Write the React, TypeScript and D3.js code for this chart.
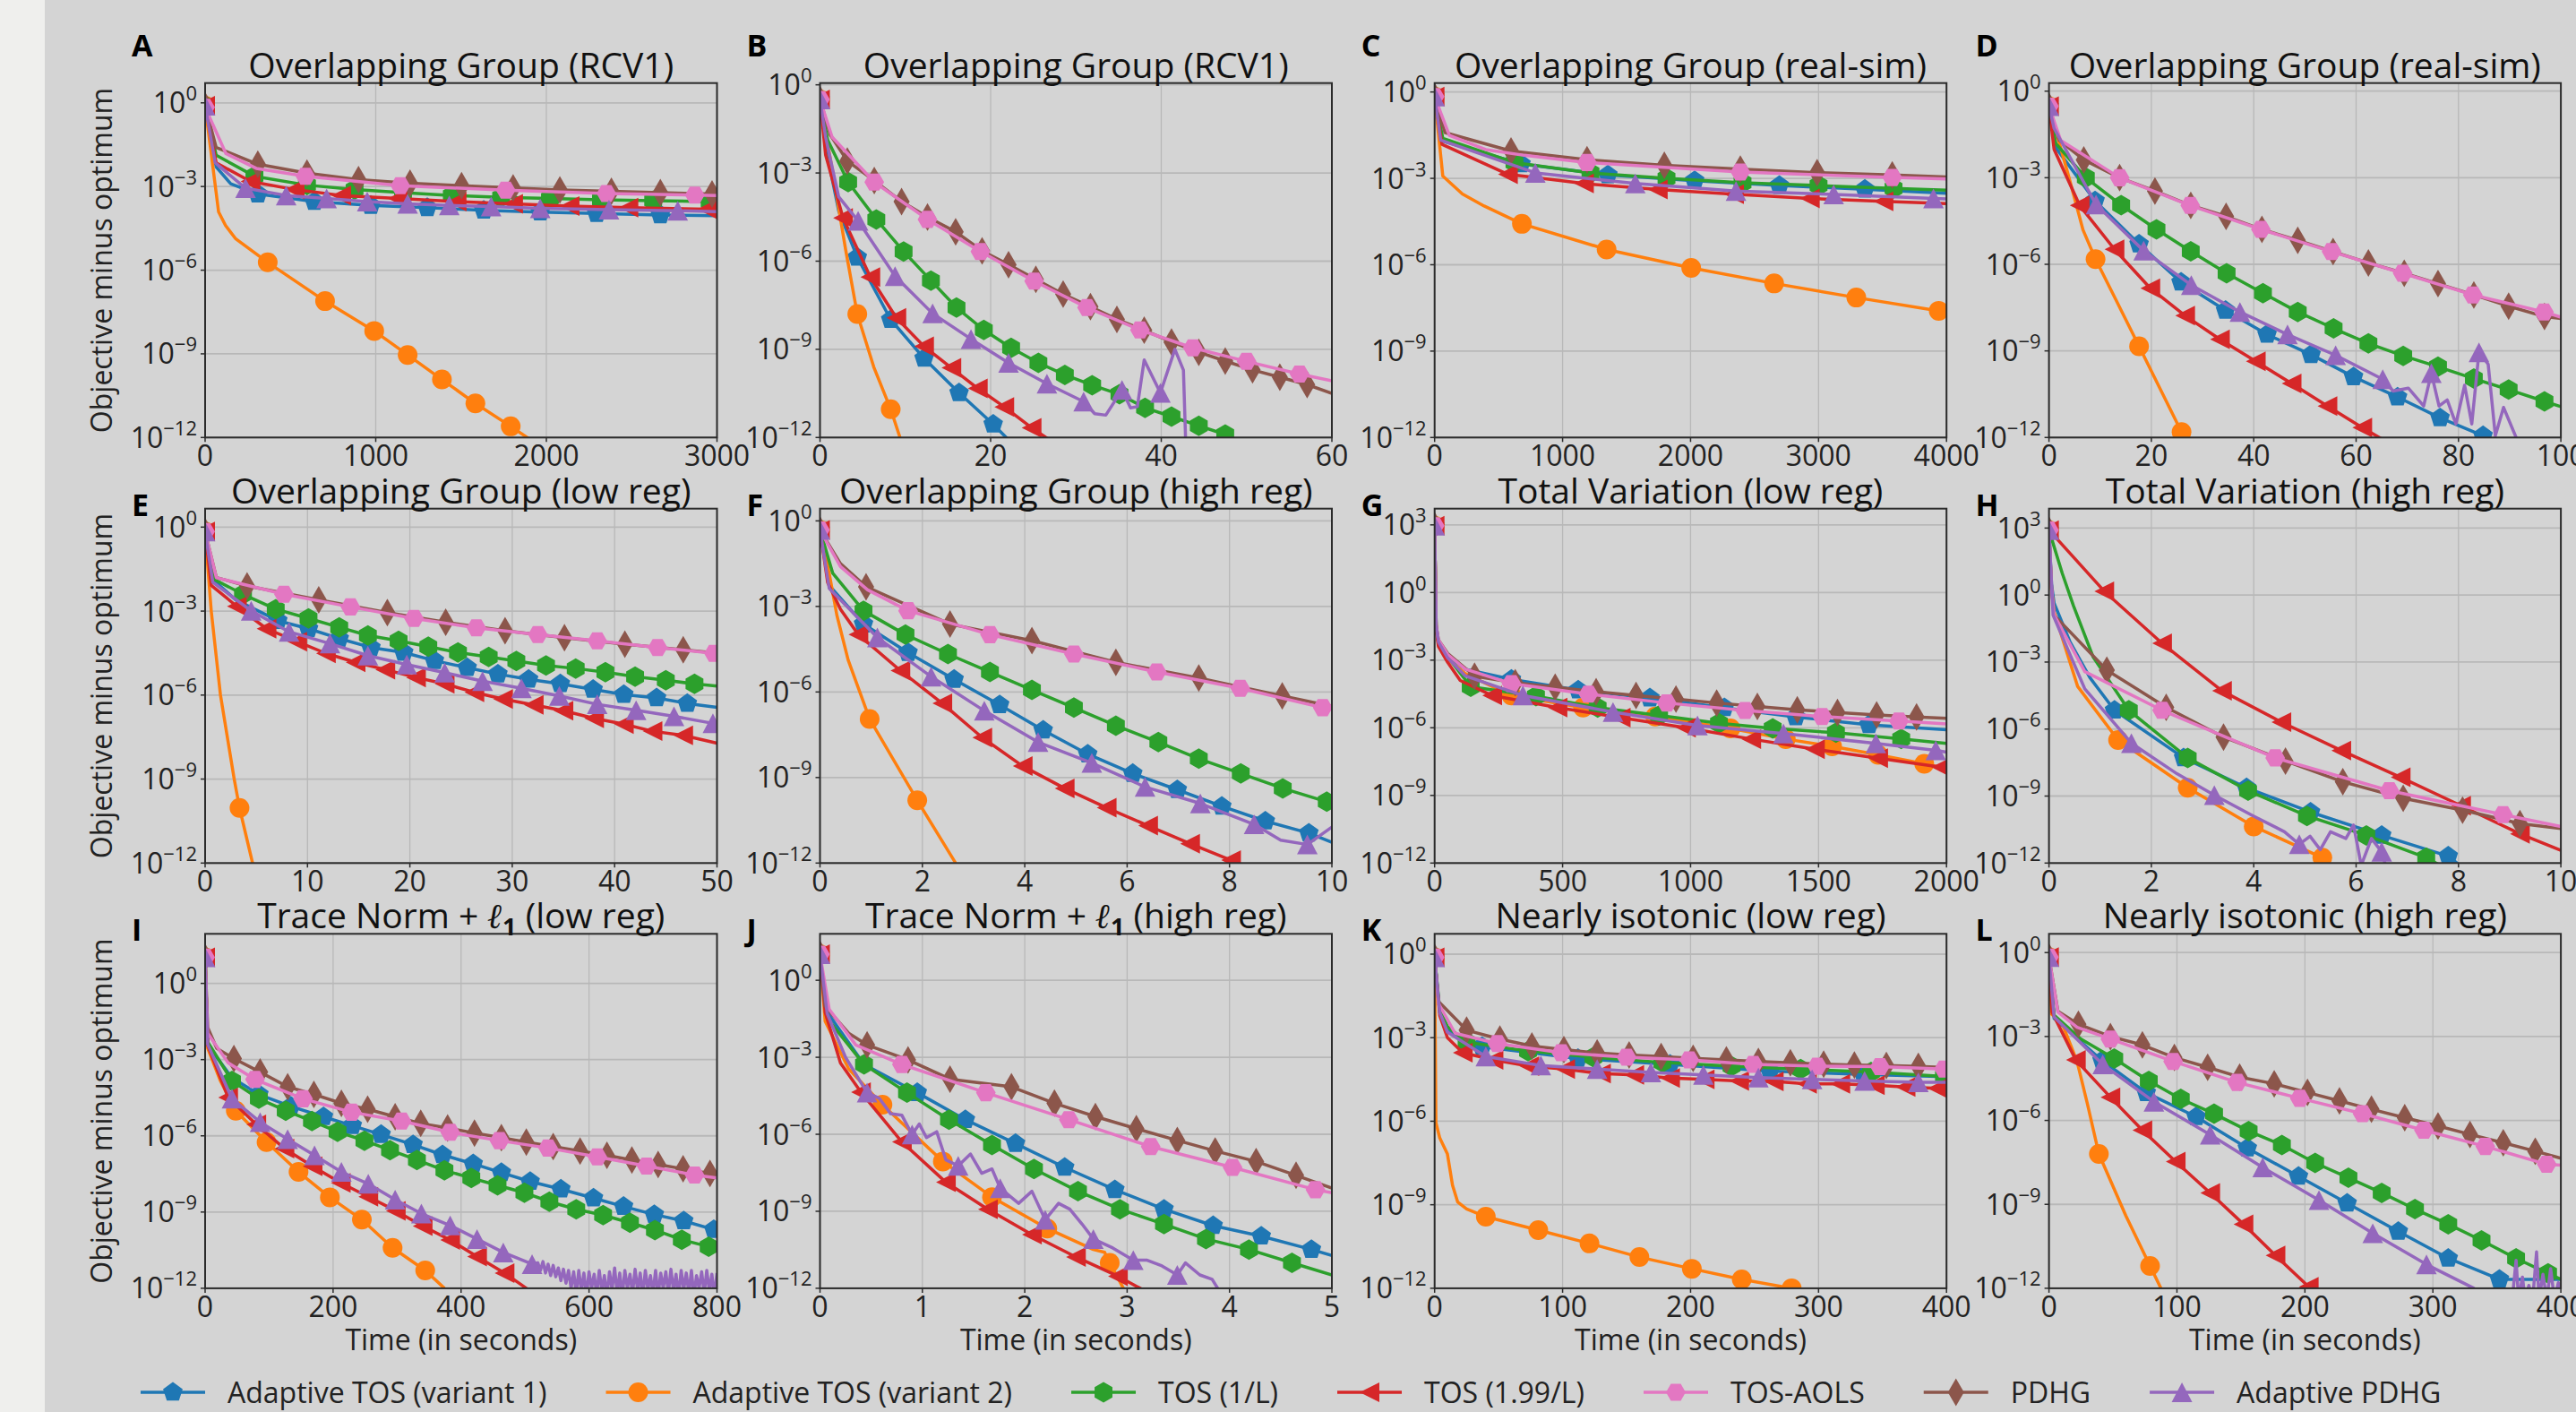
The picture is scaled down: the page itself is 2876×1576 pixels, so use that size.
import React, { useEffect, useMemo } from "react";
import * as d3 from "d3";

// series in legend order
const seriesNames = [
  "Adaptive TOS (variant 1)",
  "Adaptive TOS (variant 2)",
  "TOS (1/L)",
  "TOS (1.99/L)",
  "TOS-AOLS",
  "PDHG",
  "Adaptive PDHG",
];
const seriesColors = ["#1f77b4", "#ff7f0e", "#2ca02c", "#d62728", "#e377c2", "#8c564b", "#9467bd"];
const seriesMarkers = ["pentagon", "circle", "hexagon", "triangleLeft", "hexagon2", "thinDiamond", "triangleUp"];
const drawOrder = [0, 1, 2, 3, 5, 4, 6];

const panelLetters = ["A", "B", "C", "D", "E", "F", "G", "H", "I", "J", "K", "L"];
const panelTitles = [
  "Overlapping Group (RCV1)",
  "Overlapping Group (RCV1)",
  "Overlapping Group (real-sim)",
  "Overlapping Group (real-sim)",
  "Overlapping Group (low reg)",
  "Overlapping Group (high reg)",
  "Total Variation (low reg)",
  "Total Variation (high reg)",
  "Trace Norm + ℓ1 (low reg)",
  "Trace Norm + ℓ1 (high reg)",
  "Nearly isotonic (low reg)",
  "Nearly isotonic (high reg)",
];
const panelXMax = [3000, 60, 4000, 100, 50, 10, 2000, 10, 800, 5, 400, 400];
const panelXTicks = [
  [0, 1000, 2000, 3000],
  [0, 20, 40, 60],
  [0, 1000, 2000, 3000, 4000],
  [0, 20, 40, 60, 80, 100],
  [0, 10, 20, 30, 40, 50],
  [0, 2, 4, 6, 8, 10],
  [0, 500, 1000, 1500, 2000],
  [0, 2, 4, 6, 8, 10],
  [0, 200, 400, 600, 800],
  [0, 1, 2, 3, 4, 5],
  [0, 100, 200, 300, 400],
  [0, 100, 200, 300, 400],
];
// log10 of the top of each y axis (bottom is 1e-12)
const panelYTop = [0.71, 0.06, 0.31, 0.28, 0.66, 0.43, 3.72, 3.87, 1.95, 1.81, 0.73, 0.67];
const yTickExps = [0, -3, -6, -9, -12];
const yTickExpsTV = [3, 0, -3, -6, -9, -12];

// each series: [time, log10(objective - optimum), 0 = no marker]
// order inside a panel: blue, orange, green, red, pink, brown, purple
const panelA = [
  [[0,-0.1],[65,-2.3,0],[150,-2.9,0],[309,-3.27],[640,-3.54],[971,-3.68],[1302,-3.76],[1633,-3.85],[1964,-3.92],[2295,-3.97],[2668,-4.02],[3000,-4.05,0]],
  [[0,-0.1],[79,-3.91,0],[120,-4.4,0],[180,-4.88,0],[367,-5.72],[703,-7.11],[991,-8.18],[1187,-9.04],[1388,-9.92],[1584,-10.78],[1791,-11.6],[1960,-12.3,0]],
  [[0,-0.1],[65,-1.88,0],[289,-2.63],[597,-2.95],[876,-3.11],[1160,-3.22],[1446,-3.32],[1735,-3.39],[2021,-3.43],[2320,-3.48],[2626,-3.51],[2957,-3.54],[3000,-3.55,0]],
  [[0,-0.1],[65,-2.15,0],[266,-2.82],[525,-3.11],[798,-3.32],[1129,-3.43],[1474,-3.54],[1805,-3.62],[2136,-3.7],[2481,-3.76],[2942,-3.81],[3000,-3.81,0]],
  [[0,-0.16],[122,-1.82,0],[300,-2.35,0],[588,-2.63],[1144,-2.97],[1762,-3.13],[2352,-3.25],[2870,-3.31],[3000,-3.32,0]],
  [[0,-0.1],[65,-1.6,0],[309,-2.2],[597,-2.52],[899,-2.75],[1201,-2.88],[1503,-2.97],[1805,-3.05],[2079,-3.12],[2381,-3.17],[2668,-3.22],[2971,-3.27]],
  [[0,-0.1],[59,-2.15,0],[237,-3.06],[475,-3.32],[712,-3.43],[950,-3.54],[1187,-3.62],[1431,-3.68],[1676,-3.72],[1964,-3.78],[2367,-3.83],[2770,-3.87],[3000,-3.9,0]],
];
const panelB = [
  [[0,-0.5],[1,-2.6,0],[2.2,-4.3,0],[4.37,-5.87],[8.29,-7.99],[12.2,-9.31],[16.3,-10.48],[20.3,-11.55],[22.5,-12.2,0]],
  [[0,-0.5],[1.5,-3,0],[3,-5.6,0],[4.37,-7.8],[6.3,-9.6,0],[8.29,-11.04],[9.6,-12.2,0]],
  [[0,-0.5],[0.9,-1.88,0],[3.3,-3.31],[6.6,-4.58],[9.8,-5.67],[13,-6.66],[16,-7.58],[19.2,-8.34],[22.4,-8.95],[25.6,-9.46],[28.7,-9.87],[31.9,-10.22],[35.1,-10.53],[38.1,-10.99],[41.2,-11.29],[44.4,-11.6],[47.5,-11.9],[49,-12.1,0]],
  [[0,-0.5],[0.66,-2.39,0],[2.7,-4.53],[5.9,-6.54],[8.95,-7.93],[12.2,-8.9],[15.4,-9.63],[18.5,-10.33],[21.6,-10.96],[24.8,-11.67],[27,-12.1,0]],
  [[0,-0.5],[1.42,-1.78,0],[6.36,-3.31],[12.6,-4.58],[18.8,-5.67],[25.1,-6.68],[31.3,-7.58],[37.5,-8.34],[43.7,-8.95],[50,-9.41],[56.2,-9.84],[60,-10.07,0]],
  [[0,-0.5],[1.2,-1.7,0],[3.2,-2.59],[6.36,-3.26],[9.56,-3.97],[12.6,-4.5],[15.9,-5.0],[19,-5.65],[22.1,-6.12],[25.3,-6.62],[28.5,-7.12],[31.7,-7.55],[34.8,-7.98],[38,-8.35],[41.2,-8.75],[44.4,-9.1],[47.5,-9.4],[50.7,-9.7],[53.9,-9.95],[57.1,-10.2],[60,-10.5,0]],
  [[0,-0.5],[0.66,-1.78,0],[2.19,-3.81,0],[4.47,-4.63],[8.8,-6.51],[13.2,-7.78],[17.7,-8.65],[22.1,-9.46],[26.6,-10.17],[30.9,-10.78],[32.2,-11.19,0],[33.5,-11.24,0],[35.4,-10.38],[36.4,-10.99,0],[37.2,-10.95,0],[38,-9.36,0],[39.9,-10.48],[41.6,-9.0,0],[42.6,-9.71,0],[42.9,-12.5,0]],
];
const panelC = [
  [[0,-0.16],[60,-1.7,0],[675,-2.5],[1354,-2.88],[2032,-3.08],[2694,-3.25],[3362,-3.38],[4000,-3.52,0]],
  [[0,-0.16],[64,-2.92,0],[217,-3.54,0],[387,-3.96,0],[682,-4.58],[1344,-5.47],[2005,-6.11],[2653,-6.65],[3295,-7.14],[3939,-7.6],[4000,-7.62,0]],
  [[0,-0.16],[64,-1.61,0],[624,-2.45],[1218,-2.81],[1812,-3.0],[2406,-3.15],[3000,-3.25],[3586,-3.35],[4000,-3.41,0]],
  [[0,-0.16],[58,-1.82,0],[573,-2.86],[1167,-3.18],[1744,-3.39],[2340,-3.55],[2932,-3.7],[3508,-3.8],[4000,-3.88,0]],
  [[0,-0.16],[115,-1.51,0],[400,-2.0,0],[700,-2.2,0],[1191,-2.45],[2389,-2.78],[3576,-2.97],[4000,-3.02,0]],
  [[0,-0.16],[81,-1.41,0],[597,-2.05],[1191,-2.35],[1795,-2.55],[2389,-2.68],[2989,-2.8],[3576,-2.88],[4000,-2.95,0]],
  [[0,-0.16],[47,-1.67,0],[787,-2.81],[1568,-3.18],[2355,-3.44],[3118,-3.56],[3898,-3.7],[4000,-3.71,0]],
];
const panelD = [
  [[0,-0.52],[1.5,-2.0,0],[9,-3.8],[17.6,-5.3],[25.8,-6.62],[34.5,-7.6],[42.6,-8.43],[51.2,-9.13],[59.5,-9.9],[68.1,-10.6],[76.4,-11.32],[84.8,-11.94],[86.5,-12.1,0]],
  [[0,-0.52],[4,-3.05,0],[6.65,-4.81,0],[9.1,-5.82],[13,-7.2,0],[17.6,-8.84],[25.9,-11.81],[26.6,-12.05,0]],
  [[0,-0.52],[1.3,-1.81,0],[7.2,-3.0],[14.1,-3.95],[21,-4.79],[27.7,-5.55],[34.7,-6.31],[41.8,-7.0],[48.6,-7.65],[55.6,-8.22],[62.4,-8.74],[69.2,-9.17],[76,-9.55],[83,-9.96],[89.8,-10.34],[96.8,-10.75],[100,-10.93,0]],
  [[0,-0.52],[1,-2.02,0],[6,-3.96],[12.8,-5.48],[19.8,-6.83],[26.6,-7.78],[33.4,-8.6],[40.4,-9.36],[47.4,-10.13],[54.4,-10.91],[61.2,-11.66],[65.5,-12.1,0]],
  [[0,-0.52],[2.3,-1.71,0],[13.8,-3.0],[27.6,-3.96],[41.4,-4.79],[55.2,-5.56],[69.1,-6.31],[82.8,-7.06],[96.7,-7.65],[100,-7.83,0]],
  [[0,-0.52],[2,-1.7,0],[6.8,-2.38],[13.8,-3.0],[20.7,-3.46],[27.7,-3.96],[34.6,-4.34],[41.6,-4.79],[48.6,-5.17],[55.5,-5.56],[62.4,-5.95],[69.4,-6.31],[76,-6.67],[83,-7.06],[89.8,-7.45],[96.8,-7.81],[100,-7.88,0]],
  [[0,-0.52],[1,-1.29,0],[9.2,-3.93],[18.5,-5.53],[27.8,-6.72],[37.3,-7.65],[46.6,-8.43],[56,-9.15],[65.2,-9.98],[67.2,-10.39,0],[70.2,-10.29,0],[73.2,-10.91,0],[74.7,-9.77],[76.2,-10.91,0],[77.8,-10.7,0],[79.5,-11.53,0],[81.2,-10.19,0],[82.6,-11.53,0],[84,-9.05],[85.8,-9.46,0],[87.2,-11.94,0],[88.8,-10.96,0],[91.5,-12.1,0]],
];
const panelE = [
  [[0,-0.16],[0.75,-1.87,0],[3,-2.6,0],[7.1,-3.34],[10.1,-3.63],[13.1,-3.98],[16.2,-4.3],[19.4,-4.48],[22.4,-4.77],[25.6,-5.02],[28.6,-5.25],[31.6,-5.44],[34.7,-5.6],[37.9,-5.8],[40.9,-5.98],[44.1,-6.1],[47.1,-6.3],[50,-6.44,0]],
  [[0,-0.16],[0.6,-3,0],[1.5,-6,0],[2.84,-9,0],[3.36,-10.03],[4.7,-12.1,0]],
  [[0,-0.16],[0.9,-1.87,0],[3.7,-2.4],[6.9,-2.93],[10.1,-3.26],[13.1,-3.58],[15.9,-3.87],[18.9,-4.06],[21.8,-4.27],[24.7,-4.48],[27.7,-4.64],[30.4,-4.78],[33.3,-4.94],[36.2,-5.05],[39.1,-5.18],[42,-5.34],[45,-5.47],[47.8,-5.6],[50,-5.68,0]],
  [[0,-0.16],[0.6,-2.08,0],[3.1,-2.83],[6,-3.63],[9,-4.09],[11.8,-4.51],[14.7,-4.83],[17.6,-5.09],[20.6,-5.37],[23.4,-5.6],[26.3,-5.9],[29.1,-6.14],[32.1,-6.35],[35,-6.56],[38,-6.83],[40.9,-7.04],[43.7,-7.29],[46.7,-7.44],[50,-7.72,0]],
  [[0,-0.16],[1.1,-1.81,0],[7.7,-2.4],[14.2,-2.85],[20.4,-3.26],[26.5,-3.6],[32.5,-3.84],[38.3,-4.06],[44.2,-4.3],[49.7,-4.51],[50,-4.52,0]],
  [[0,-0.16],[1.1,-1.8,0],[4.1,-2.1],[11.1,-2.6],[17.8,-3.05],[23.5,-3.4],[29.3,-3.7],[35.1,-3.95],[41,-4.18],[46.7,-4.38],[50,-4.5,0]],
  [[0,-0.16],[0.75,-1.97,0],[4.5,-2.99],[8.2,-3.74],[12.2,-4.16],[15.9,-4.59],[19.7,-4.91],[23.4,-5.2],[27.1,-5.5],[30.9,-5.76],[34.6,-6.03],[38.3,-6.33],[42.1,-6.54],[45.8,-6.76],[49.6,-7.01],[50,-7.03,0]],
];
const panelF = [
  [[0,-0.32],[0.18,-2.26,0],[0.85,-3.62],[1.72,-4.62],[2.62,-5.56],[3.51,-6.45],[4.36,-7.34],[5.23,-8.18],[6.11,-8.86],[6.98,-9.43],[7.85,-10.01],[8.7,-10.53],[9.55,-10.95],[10,-11.27,0]],
  [[0,-0.32],[0.18,-1.84,0],[0.33,-3.31,0],[0.55,-4.88,0],[0.97,-6.95],[1.9,-9.8],[2.65,-12.0,0]],
  [[0,-0.32],[0.25,-1.84,0],[0.85,-3.15],[1.67,-3.99],[2.5,-4.67],[3.32,-5.3],[4.14,-5.93],[4.96,-6.55],[5.78,-7.18],[6.61,-7.76],[7.4,-8.34],[8.22,-8.86],[9.04,-9.38],[9.9,-9.85],[10,-9.9,0]],
  [[0,-0.32],[0.15,-2.16,0],[0.4,-3.1,0],[0.75,-3.99],[1.57,-5.25],[2.39,-6.4],[3.17,-7.6],[3.96,-8.6],[4.78,-9.38],[5.6,-10.06],[6.41,-10.69],[7.23,-11.32],[8.03,-11.9],[8.3,-12.1,0]],
  [[0,-0.32],[0.4,-1.6,0],[0.93,-2.42,0],[1.72,-3.15],[3.32,-3.99],[4.96,-4.67],[6.58,-5.3],[8.21,-5.87],[9.82,-6.55],[10,-6.61,0]],
  [[0,-0.32],[0.4,-1.5,0],[0.9,-2.31],[2.54,-3.62],[4.14,-4.2],[5.78,-4.96],[7.4,-5.51],[9.03,-6.14],[10,-6.5,0]],
  [[0,-0.32],[0.18,-2.37,0],[1.12,-4.09],[2.17,-5.46],[3.21,-6.66],[4.26,-7.76],[5.31,-8.49],[6.35,-9.33],[7.43,-9.91],[8.48,-10.64],[9.0,-11.2,0],[9.52,-11.35],[10,-10.74,0]],
];
const panelG = [
  [[0,2.96],[6,-1.53,0],[15,-2.19,0],[51,-2.8,0],[120,-3.4,0],[300,-3.85],[561,-4.33],[841,-4.68],[1132,-5.11],[1411,-5.52],[1697,-5.87],[2000,-6.09,0]],
  [[0,2.96],[6,-1.6,0],[15,-2.3,0],[51,-2.95,0],[120,-3.6,0],[300,-4.57],[580,-5.1],[862,-5.5],[1156,-6.03],[1372,-6.5],[1553,-6.82],[1733,-7.2],[1913,-7.6],[2000,-7.81,0]],
  [[0,2.96],[6,-1.55,0],[15,-2.2,0],[51,-2.85,0],[141,-4.18],[396,-4.6],[637,-5.1],[877,-5.45],[1111,-5.8],[1321,-6.03],[1568,-6.22],[1823,-6.49],[2000,-6.69,0]],
  [[0,2.96],[6,-1.7,0],[15,-2.4,0],[51,-3.1,0],[100,-3.9,0],[225,-4.57],[480,-5.1],[727,-5.55],[982,-6.0],[1237,-6.5],[1486,-6.95],[1733,-7.35],[1979,-7.75],[2000,-7.85,0]],
  [[0,2.96],[6,-1.45,0],[15,-2.1,0],[51,-2.75,0],[120,-3.4,0],[300,-4.04],[601,-4.51],[907,-4.9],[1213,-5.23],[1514,-5.5],[1814,-5.7],[2000,-5.83,0]],
  [[0,2.96],[6,-1.45,0],[15,-2.1,0],[51,-2.7,0],[156,-3.71],[315,-4.0],[471,-4.2],[631,-4.4],[787,-4.57],[943,-4.73],[1102,-4.9],[1261,-5.05],[1417,-5.2],[1574,-5.32],[1727,-5.43],[1883,-5.52],[2000,-5.58,0]],
  [[0,2.96],[6,-1.5,0],[15,-2.2,0],[51,-2.9,0],[120,-3.7,0],[345,-4.57],[697,-5.3],[1027,-5.9],[1363,-6.26],[1724,-6.69],[1958,-7.0],[2000,-7.08,0]],
];
const panelH = [
  [[0,2.91],[0.05,0.5,0],[0.1,-0.36,0],[0.41,-2.09,0],[0.8,-3.7,0],[1.28,-5.16],[2.63,-7.29],[3.86,-8.63],[5.11,-9.72],[6.5,-10.76],[7.8,-11.69],[8.0,-12.05,0]],
  [[0,2.91],[0.05,0.3,0],[0.1,-0.76,0],[0.56,-4.09,0],[1.35,-6.49],[2.71,-8.63],[4.0,-10.36],[5.34,-11.76],[5.5,-12.05,0]],
  [[0,2.91],[0.26,0.97,0],[0.48,-0.49,0],[0.86,-2.76,0],[1.56,-5.16],[2.71,-7.29],[3.89,-8.76],[5.04,-9.89],[6.2,-10.76],[7.37,-11.76],[7.6,-12.05,0]],
  [[0,2.91],[1.08,0.17],[2.21,-2.16],[3.38,-4.29],[4.54,-5.69],[5.71,-6.96],[6.87,-8.16],[8.05,-9.43],[9.2,-10.69],[10,-11.43,0]],
  [[0,2.91],[0.05,0.3,0],[0.1,-0.89,0],[0.7,-3.43,0],[2.21,-5.16],[4.42,-7.29],[6.65,-8.76],[8.87,-9.83],[10,-10.36,0]],
  [[0,2.91],[0.05,0.3,0],[0.1,-0.9,0],[1.13,-3.36],[2.29,-5.03],[3.41,-6.36],[4.62,-7.43],[5.74,-8.36],[6.92,-9.1],[8.08,-9.63],[9.2,-10.23],[10,-10.45,0]],
  [[0,2.91],[0.08,-0.9,0],[0.7,-4.2,0],[1.61,-6.63],[2.5,-8.0,0],[3.23,-8.96],[4.0,-9.9,0],[4.6,-10.6,0],[4.89,-11.16],[5.1,-10.8,0],[5.3,-11.4,0],[5.5,-10.6,0],[5.8,-10.9,0],[5.95,-10.3,0],[6.1,-12.1,0],[6.3,-10.9,0],[6.5,-11.5],[6.6,-12.3,0]],
];
const panelI = [
  [[0,1.03],[4,-2.43,0],[42,-3.72,0],[84,-4.37],[134,-4.84],[185,-5.25],[230,-5.6],[275,-5.95],[325,-6.35],[371,-6.75],[419,-7.1],[463,-7.45],[508,-7.8],[556,-8.1],[607,-8.45],[654,-8.78],[702,-9.1],[748,-9.35],[795,-9.69],[800,-9.71,0]],
  [[0,1.03],[4,-2.55,0],[24,-3.84,0],[48,-5.01],[96,-6.25],[146,-7.42],[195,-8.42],[245,-9.3],[293,-10.41],[344,-11.3],[374,-12.0,0]],
  [[0,1.03],[4,-2.3,0],[42,-3.84],[84,-4.54],[126,-5.01],[167,-5.42],[207,-5.84],[249,-6.19],[289,-6.56],[331,-6.95],[374,-7.36],[416,-7.66],[457,-7.95],[499,-8.24],[538,-8.59],[580,-8.89],[622,-9.12],[664,-9.42],[703,-9.71],[745,-10.09],[787,-10.36],[800,-10.41,0]],
  [[0,1.03],[4,-2.43,0],[36,-4.49],[80,-5.55],[124,-6.5],[168,-7.2],[212,-7.85],[255,-8.4],[298,-8.95],[340,-9.55],[383,-10.1],[425,-10.75],[468,-11.4],[505,-12.05,0]],
  [[0,1.03],[4,-1.96,0],[36,-3.13,0],[78,-3.78],[153,-4.54],[229,-5.07],[307,-5.42],[383,-5.86],[460,-6.19],[536,-6.48],[613,-6.83],[690,-7.19],[765,-7.54],[800,-7.66,0]],
  [[0,1.03],[4,-1.73,0],[18,-2.55,0],[45,-2.96],[86,-3.49],[129,-4.07],[170,-4.37],[213,-4.72],[254,-4.95],[297,-5.25],[337,-5.51],[379,-5.69],[421,-5.89],[463,-6.07],[502,-6.25],[544,-6.42],[586,-6.6],[628,-6.77],[667,-6.95],[708,-7.13],[747,-7.3],[789,-7.48],[800,-7.5,0]],
  [[0,1.03],[4,-2.4,0],[42,-4.54],[86,-5.46],[129,-6.13],[171,-6.77],[213,-7.42],[255,-7.89],[297,-8.51],[338,-9.06],[383,-9.53],[425,-10.06],[466,-10.59],[511,-11.05],
   [520,-11.0,0],[524,-11.3,0],[528,-10.95,0],[532,-11.4,0],[536,-11.05,0],[540,-11.5,0],[544,-11.1,0],[548,-11.55,0],[552,-11.2,0],[556,-11.7,0],[560,-11.25,0],[564,-11.8,0],[568,-11.3,0],[572,-12.0,0],[576,-11.35,0],[580,-12.2,0],[584,-11.3,0],[588,-12.1,0],[592,-11.4,0],[596,-12.3,0],[600,-11.35,0],[604,-12.0,0],[608,-11.45,0],[612,-12.25,0],[616,-11.3,0],[620,-12.1,0],[624,-11.5,0],[628,-12.3,0],[632,-11.35,0],[636,-12.05,0],[640,-11.2,0],[644,-12.2,0],[648,-11.4,0],[652,-12.3,0],[656,-11.3,0],[660,-12.0,0],[664,-11.45,0],[668,-12.2,0],[672,-11.25,0],[676,-12.1,0],[680,-11.4,0],[684,-12.3,0],[688,-11.3,0],[692,-12.05,0],[696,-11.5,0],[700,-12.2,0],[704,-11.3,0],[708,-12.3,0],[712,-11.4,0],[716,-12.0,0],[720,-11.35,0],[724,-12.2,0],[728,-11.25,0],[732,-12.1,0],[736,-11.45,0],[740,-12.3,0],[744,-11.3,0],[748,-12.05,0],[752,-11.4,0],[756,-12.2,0],[760,-11.3,0],[764,-12.3,0],[768,-11.5,0],[772,-12.0,0],[776,-11.35,0],[780,-12.2,0],[784,-11.3,0],[788,-12.1,0],[792,-11.45,0],[796,-12.3,0],[800,-11.4,0]],
];
const panelJ = [
  [[0,1.02],[0.07,-1.24,0],[0.43,-3.28,0],[0.95,-4.38],[1.42,-5.43],[1.91,-6.36],[2.39,-7.29],[2.88,-8.16],[3.36,-8.92],[3.84,-9.56],[4.31,-9.97],[4.8,-10.49],[5,-10.72,0]],
  [[0,1.02],[0.05,-1.59,0],[0.28,-3.45,0],[0.61,-4.85],[1.2,-7.06],[1.68,-8.45],[2.22,-9.67],[2.67,-10.49,0],[2.78,-10.6,0],[2.83,-11.01],[2.97,-12.05,0]],
  [[0,1.02],[0.07,-1.48,0],[0.43,-3.28],[0.85,-4.38],[1.26,-5.43],[1.68,-6.42],[2.09,-7.35],[2.52,-8.22],[2.93,-8.92],[3.36,-9.5],[3.77,-10.08],[4.19,-10.49],[4.61,-11.01],[5,-11.48,0]],
  [[0,1.02],[0.05,-1.24,0],[0.2,-3.22,0],[0.4,-4.36],[0.8,-6.3],[1.23,-7.87],[1.64,-8.92],[2.07,-9.91],[2.5,-10.78],[2.91,-11.53],[3.15,-12.05,0]],
  [[0,1.02],[0.09,-1.13,0],[0.35,-2.52,0],[0.8,-3.28],[1.62,-4.38],[2.43,-5.43],[3.23,-6.48],[4.03,-7.29],[4.84,-8.16],[5,-8.28,0]],
  [[0,1.02],[0.05,-1.01,0],[0.28,-2.06,0],[0.46,-2.52],[0.86,-3.1],[1.27,-3.85],[1.87,-4.15],[2.29,-4.79],[2.69,-5.31],[3.09,-5.78],[3.49,-6.24],[3.86,-6.65],[4.26,-7.06],[4.65,-7.6],[5,-8.1,0]],
  [[0,1.02],[0.07,-1.3,0],[0.25,-3.0,0],[0.46,-4.38],[0.58,-4.6,0],[0.69,-5.2,0],[0.8,-5.26,0],[0.9,-6.01],[0.97,-5.6,0],[1.04,-6.13,0],[1.14,-5.9,0],[1.23,-7.0,0],[1.35,-7.23],[1.47,-6.77,0],[1.58,-7.52,0],[1.68,-7.35,0],[1.76,-8.1],[1.94,-8.69,0],[2.07,-8.22,0],[2.2,-9.33],[2.33,-8.69,0],[2.44,-8.92,0],[2.56,-9.5,0],[2.67,-10.08],[2.86,-10.43,0],[3.06,-10.9],[3.19,-10.9,0],[3.34,-11.13,0],[3.49,-11.48],[3.57,-11.01,0],[3.71,-11.48,0],[3.83,-11.65,0],[3.9,-12.1,0]],
];
const panelK = [
  [[0,-0.11],[4,-2.09,0],[10,-2.73,0],[37,-3.32],[112,-3.75],[184,-3.96],[262,-4.2],[335,-4.32],[400,-4.4,0]],
  [[0,-0.11],[0.5,-3,0],[1,-6.05,0],[4,-6.6,0],[10,-7.18,0],[14,-8.3,0],[18,-8.9,0],[25,-9.15,0],[40,-9.43],[81,-9.91],[121,-10.39],[160,-10.88],[201,-11.3],[240,-11.68],[279,-12.0],[300,-12.2,0]],
  [[0,-0.11],[4,-2.0,0],[10,-2.6,0],[25,-3.16],[73,-3.48],[124,-3.7],[178,-3.89],[232,-4.02],[286,-4.13],[341,-4.23],[398,-4.39],[400,-4.39,0]],
  [[0,-0.11],[4,-2.2,0],[10,-3.0,0],[22,-3.54],[46,-3.8],[74,-4.02],[102,-4.13],[130,-4.29],[156,-4.34],[184,-4.45],[211,-4.5],[238,-4.55],[265,-4.57],[291,-4.66],[317,-4.66],[344,-4.71],[368,-4.77],[393,-4.82],[400,-4.82,0]],
  [[0,-0.11],[3,-1.77,0],[16,-2.84,0],[49,-3.21],[99,-3.54],[150,-3.7],[199,-3.8],[249,-3.96],[299,-4.02],[348,-4.04],[398,-4.13],[400,-4.13,0]],
  [[0,-0.11],[3,-1.7,0],[25,-2.73],[51,-3.05],[76,-3.3],[101,-3.43],[127,-3.55],[152,-3.62],[177,-3.68],[202,-3.74],[228,-3.8],[253,-3.85],[278,-3.9],[304,-3.95],[328,-3.98],[353,-4.0],[378,-4.03],[400,-4.07,0]],
  [[0,-0.11],[4,-2.1,0],[10,-2.8,0],[40,-3.68],[83,-4.0],[127,-4.13],[169,-4.25],[210,-4.34],[253,-4.43],[295,-4.5],[336,-4.55],[378,-4.6],[400,-4.6,0]],
];
const panelL = [
  [[0,-0.16],[4,-2.35,0],[41.5,-3.86],[76,-5.01],[115,-5.87],[155,-6.99],[195,-8.0],[233,-8.96],[273,-9.97],[312,-10.93],[352,-11.68],[400,-11.68,0]],
  [[0,-0.16],[2,-2.2,0],[10,-2.5,0],[22,-3.9,0],[30,-5.4,0],[39,-7.2],[60,-9.4,0],[79,-11.2],[88,-12.05,0]],
  [[0,-0.16],[4,-2.24,0],[25,-3.09,0],[51,-3.79],[78,-4.59],[103,-5.23],[129,-5.76],[156,-6.38],[182,-6.88],[208,-7.52],[234,-8.05],[260,-8.59],[286,-9.17],[312,-9.71],[338,-10.29],[365,-10.93],[390,-11.47],[400,-11.68,0]],
  [[0,-0.16],[2.4,-2.13,0],[21,-3.84],[48,-5.17],[73,-6.35],[99,-7.47],[126,-8.59],[152,-9.71],[177,-10.83],[203,-11.95],[205,-12.05,0]],
  [[0,-0.16],[7,-2.13,0],[22,-2.67,0],[48,-3.09],[97,-3.89],[147,-4.64],[196,-5.21],[245,-5.76],[293,-6.35],[341,-6.93],[389,-7.57],[400,-7.6,0]],
  [[0,-0.16],[7,-2.1,0],[23,-2.56],[48,-3.0],[73,-3.3],[98,-3.75],[124,-4.1],[149,-4.45],[176,-4.69],[202,-5.0],[227,-5.3],[252,-5.6],[278,-5.9],[304,-6.2],[329,-6.5],[355,-6.8],[380,-7.1],[400,-7.35,0]],
  [[0,-0.16],[4,-2.3,0],[42,-4.0],[82,-5.33],[126,-6.51],[167,-7.68],[211,-8.85],[253,-10.03],[295,-11.15],[332,-12.0,0],[350,-12.6,0],[362,-12.4,0],[365,-11.0,0],[367,-12.4,0],[370,-11.6,0],[372,-12.4,0],[375,-11.9,0],[378,-12.4,0],[381,-10.7,0],[383,-12.4,0],[386,-11.5,0],[389,-12.4,0],[392,-11.3,0],[395,-12.4,0],[398,-11.8,0],[400,-12.3,0]],
];
const panelData = [panelA, panelB, panelC, panelD, panelE, panelF, panelG, panelH, panelI, panelJ, panelK, panelL];

// layout
const W = 2876;
const H = 1576;
const colLeft = [229, 915.5, 1601.7, 2287.6];
const rowTop = [92.7, 567.7, 1042.3];
const axW = 571.5;
const axH = 395.6;
const letterDy = [-30, 8, 8];
const FONT = "'Open Sans', 'DejaVu Sans', sans-serif";
const BG = "#d4d4d4";

function polygon(n, r, rot) {
  const pts = d3.range(n).map((i) => {
    const a = rot + (i * 2 * Math.PI) / n;
    return [r * Math.sin(a), -r * Math.cos(a)];
  });
  return "M" + pts.map((p) => p[0].toFixed(2) + "," + p[1].toFixed(2)).join("L") + "Z";
}

const markerPaths = {
  pentagon: polygon(5, 11.5, 0),
  circle: d3.symbol(d3.symbolCircle, Math.PI * 11 * 11)(),
  hexagon: polygon(6, 11.5, 0),
  hexagon2: polygon(6, 11, Math.PI / 6),
  triangleLeft: "M-11,0L11,-11L11,11Z",
  thinDiamond: "M0,-15.5L9,0L0,15.5L-9,0Z",
  triangleUp: "M0,-11L11.5,11L-11.5,11Z",
};

function Marker({ kind, color, x, y }) {
  return <path d={markerPaths[kind]} transform={`translate(${x},${y})`} fill={color} />;
}

function YTickLabel({ x, y, e }) {
  const sup = e < 0 ? "\u2212" + -e : String(e);
  return (
    <text x={x} y={y + 11.5} textAnchor="end" fontSize={32} fill="#222">
      10
      <tspan dy={-14} fontSize={22}>{sup}</tspan>
    </text>
  );
}

function Title({ x, y, text }) {
  const m = text.match(/^(.*)ℓ1(.*)$/);
  if (!m) {
    return (
      <text x={x} y={y} textAnchor="middle" fontSize={39} fill="#111">
        {text}
      </text>
    );
  }
  return (
    <text x={x} y={y} textAnchor="middle" fontSize={39} fill="#111">
      {m[1]}
      <tspan fontWeight="bold" fontStyle="italic" fontFamily="'DejaVu Serif', serif">ℓ</tspan>
      <tspan dy={8} fontSize={27} fontWeight="bold">1</tspan>
      <tspan dy={-8}>{m[2]}</tspan>
    </text>
  );
}

function Panel({ idx }) {
  const col = idx % 4;
  const row = Math.floor(idx / 4);
  const x0 = colLeft[col];
  const y0 = rowTop[row];
  const x = d3.scaleLinear().domain([0, panelXMax[idx]]).range([x0, x0 + axW]);
  const y = d3.scaleLog().domain([1e-12, Math.pow(10, panelYTop[idx])]).range([y0 + axH, y0]);
  const line = d3
    .line()
    .x((d) => x(d[0]))
    .y((d) => y(Math.pow(10, d[1])));
  const yTicks = panelYTop[idx] > 3 ? yTickExpsTV : yTickExps;
  const clipId = `clip-${idx}`;
  const series = panelData[idx];

  return (
    <g>
      <defs>
        <clipPath id={clipId}>
          <rect x={x0} y={y0} width={axW} height={axH} />
        </clipPath>
      </defs>
      {/* grid */}
      {panelXTicks[idx].map((t) => (
        <line key={"gx" + t} x1={x(t)} x2={x(t)} y1={y0} y2={y0 + axH} stroke="#b8b8b8" strokeWidth={1.3} />
      ))}
      {yTicks.map((e) => (
        <line key={"gy" + e} x1={x0} x2={x0 + axW} y1={y(Math.pow(10, e))} y2={y(Math.pow(10, e))} stroke="#b8b8b8" strokeWidth={1.8} />
      ))}
      {/* series */}
      <g clipPath={`url(#${clipId})`}>
        {drawOrder.map((si) => {
          const pts = series[si];
          const color = seriesColors[si];
          return (
            <g key={si}>
              <path d={line(pts)} fill="none" stroke={color} strokeWidth={3.5} strokeLinejoin="round" />
              {pts
                .filter((p) => p[2] !== 0)
                .map((p, k) => (
                  <Marker key={k} kind={seriesMarkers[si]} color={color} x={x(p[0])} y={y(Math.pow(10, p[1]))} />
                ))}
            </g>
          );
        })}
      </g>
      {/* frame */}
      <rect x={x0} y={y0} width={axW} height={axH} fill="none" stroke="#2b2b2b" strokeWidth={2} />
      {/* ticks */}
      {panelXTicks[idx].map((t) => (
        <g key={"tx" + t}>
          <line x1={x(t)} x2={x(t)} y1={y0 + axH} y2={y0 + axH + 5} stroke="#2b2b2b" strokeWidth={1.5} />
          <text x={x(t)} y={y0 + axH + 32} textAnchor="middle" fontSize={32} fill="#222">
            {t}
          </text>
        </g>
      ))}
      {yTicks.map((e) => (
        <g key={"ty" + e}>
          <line x1={x0 - 5} x2={x0} y1={y(Math.pow(10, e))} y2={y(Math.pow(10, e))} stroke="#2b2b2b" strokeWidth={1.5} />
          <YTickLabel x={x0 - 9} y={y(Math.pow(10, e))} e={e} />
        </g>
      ))}
      <Title x={x0 + axW / 2} y={y0 - 6} text={panelTitles[idx]} />
      <text x={x0 - 82} y={y0 + letterDy[row]} fontSize={34} fontWeight="bold" fill="#000">
        {panelLetters[idx]}
      </text>
      {col === 0 && (
        <text
          transform={`translate(${x0 - 104},${y0 + axH / 2}) rotate(-90)`}
          textAnchor="middle"
          fontSize={32}
          fill="#222"
        >
          Objective minus optimum
        </text>
      )}
      {row === 2 && (
        <text x={x0 + axW / 2} y={y0 + axH + 69} textAnchor="middle" fontSize={32} fill="#222">
          Time (in seconds)
        </text>
      )}
    </g>
  );
}

function Legend() {
  const widths = useMemo(() => {
    const ctx = document.createElement("canvas").getContext("2d");
    if (!ctx) return seriesNames.map((s) => s.length * 15);
    ctx.font = "32px 'Open Sans'";
    return seriesNames.map((s) => ctx.measureText(s).width);
  }, []);
  const handle = 72;
  const pad = 25;
  const gap = 66;
  const yc = 1554;
  let cx = 157;
  const items = seriesNames.map((name, i) => {
    const item = { name, i, x: cx };
    cx += handle + pad + widths[i] + gap;
    return item;
  });
  return (
    <g>
      {items.map((it) => (
        <g key={it.name}>
          <line x1={it.x} x2={it.x + handle} y1={yc} y2={yc} stroke={seriesColors[it.i]} strokeWidth={3.5} />
          <Marker kind={seriesMarkers[it.i]} color={seriesColors[it.i]} x={it.x + handle / 2} y={yc} />
          <text x={it.x + handle + pad} y={yc + 12} fontSize={32} fill="#222">
            {it.name}
          </text>
        </g>
      ))}
    </g>
  );
}

export default function App() {
  useEffect(() => {
    document.body.style.margin = "0";
    document.body.style.overflow = "hidden";
  }, []);
  return (
    <svg
      width={W}
      height={H}
      viewBox={`0 0 ${W} ${H}`}
      style={{ position: "absolute", left: 0, top: 0, display: "block" }}
      fontFamily={FONT}
    >
      <rect x={0} y={0} width={W} height={H} fill={BG} />
      <rect x={0} y={0} width={50} height={H} fill="#efefed" />
      {panelData.map((_, i) => (
        <Panel key={i} idx={i} />
      ))}
      <Legend />
    </svg>
  );
}
